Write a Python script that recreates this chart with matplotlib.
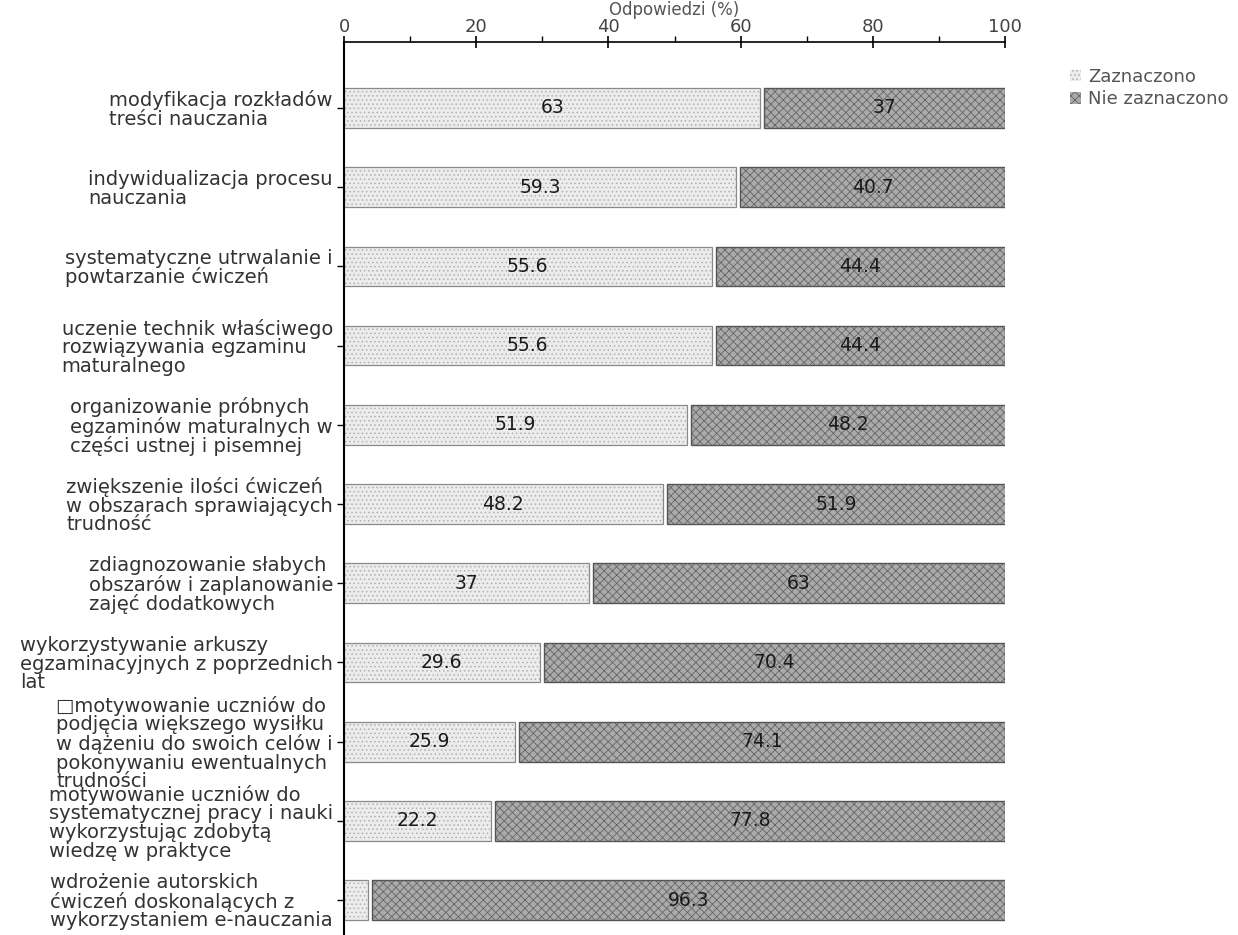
import numpy as np
import matplotlib
matplotlib.use("Agg")
import matplotlib.pyplot as plt
from matplotlib.patches import Patch

categories = [
    "modyfikacja rozkładów\ntreści nauczania",
    "indywidualizacja procesu\nnauczania",
    "systematyczne utrwalanie i\npowtarzanie ćwiczeń",
    "uczenie technik właściwego\nrozwiązywania egzaminu\nmaturalnego",
    "organizowanie próbnych\negzaminów maturalnych w\nczęści ustnej i pisemnej",
    "zwiększenie ilości ćwiczeń\nw obszarach sprawiających\ntrudność",
    "zdiagnozowanie słabych\nobszarów i zaplanowanie\nzajęć dodatkowych",
    "wykorzystywanie arkuszy\negzaminacyjnych z poprzednich\nlat",
    "□motywowanie uczniów do\npodjęcia większego wysiłku\nw dążeniu do swoich celów i\npokonywaniu ewentualnych\ntrudności",
    "motywowanie uczniów do\nsystematycznej pracy i nauki\nwykorzystując zdobytą\nwiedzę w praktyce",
    "wdrożenie autorskich\nćwiczeń doskonalących z\nwykorzystaniem e-nauczania",
]
zaznaczono = [63, 59.3, 55.6, 55.6, 51.9, 48.2, 37, 29.6, 25.9, 22.2, 3.7]
nie_zaznaczono = [37, 40.7, 44.4, 44.4, 48.2, 51.9, 63, 70.4, 74.1, 77.8, 96.3]
series_names = ["Zaznaczono", "Nie zaznaczono"]
xticks = [0, 20, 40, 60, 80, 100]

plt.rcParams["font.family"] = "DejaVu Sans"
plt.rcParams["hatch.linewidth"] = 0.6

fig = plt.figure(figsize=(12.38, 9.35), dpi=100)
ax = fig.add_axes([0.2779, 0.0, 0.5339, 0.9551])

y = np.arange(len(categories))
h = 0.5
gap = 0.6

light_fc, light_hc = "#ececec", "#b0b0b0"
dark_fc, dark_hc = "#aaaaaa", "#666666"

z = np.array(zaznaczono)
n = np.array(nie_zaznaczono)

# texture first, then outline on top
ax.barh(y, z, height=h, color=light_fc, edgecolor=light_hc, hatch="....", linewidth=0)
ax.barh(y, z, height=h, fill=False, edgecolor="#8a8a8a", linewidth=0.9)
ax.barh(y, n - gap, left=z + gap, height=h, color=dark_fc, edgecolor=dark_hc, hatch="xxxx", linewidth=0)
ax.barh(y, n - gap, left=z + gap, height=h, fill=False, edgecolor="#555555", linewidth=1.0)

for i in range(len(categories)):
    if z[i] > 5:
        ax.text(z[i] / 2, y[i], f"{z[i]:g}", ha="center", va="center", fontsize=13.5, color="#1a1a1a")
    ax.text(z[i] + gap + (n[i] - gap) / 2, y[i], f"{n[i]:g}", ha="center", va="center", fontsize=13.5, color="#1a1a1a")

ax.set_xlim(0, 100)
ax.set_ylim(10.44, -0.833)
ax.set_yticks(y)
ax.set_yticklabels(categories, fontsize=14, color="#333333", linespacing=0.97, multialignment="left")
ax.xaxis.tick_top()
ax.xaxis.set_label_position("top")
ax.set_xticks(xticks)
ax.set_xticks([10, 30, 50, 70, 90], minor=True)
ax.tick_params(axis="x", which="major", direction="inout", length=9, width=1.2, labelsize=13, labelcolor="#444444", pad=0)
ax.tick_params(axis="x", which="minor", direction="out", length=4, width=1)
ax.tick_params(axis="y", direction="out", length=5, width=1, pad=3)
ax.set_xlabel("Odpowiedzi (%)", fontsize=12, color="#555555", labelpad=2)

ax.spines["right"].set_visible(False)
ax.spines["bottom"].set_visible(False)
ax.spines["left"].set_linewidth(1.5)
ax.spines["top"].set_linewidth(1.2)

handles = [
    Patch(facecolor=light_fc, edgecolor=light_hc, hatch="....", linewidth=0),
    Patch(facecolor=dark_fc, edgecolor=dark_hc, hatch="xxxx", linewidth=0),
]
fig.legend(handles, series_names, loc="upper left", bbox_to_anchor=(0.851, 0.945),
           frameon=False, fontsize=13, labelcolor="#555555",
           handlelength=0.6, handleheight=0.6, handletextpad=0.4, labelspacing=0.25)

fig.savefig("out.png", dpi=100)
